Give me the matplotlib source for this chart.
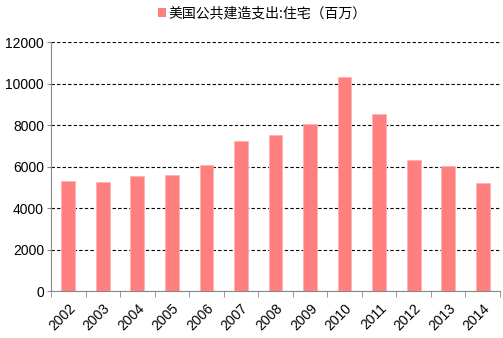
import matplotlib
matplotlib.use("Agg")
import matplotlib.pyplot as plt
from matplotlib.patches import Patch
import numpy as np

plt.rcParams['font.family'] = ['Liberation Sans', 'Noto Sans CJK SC', 'DejaVu Sans']

years = ['2002', '2003', '2004', '2005', '2006', '2007', '2008',
         '2009', '2010', '2011', '2012', '2013', '2014']
values = [5300, 5250, 5540, 5600, 6090, 7230, 7520,
          8060, 10330, 8545, 6330, 6040, 5190]
series_name = '美国公共建造支出:住宅（百万）'
yticks = [0, 2000, 4000, 6000, 8000, 10000, 12000]

fig = plt.figure(figsize=(5.03, 3.38), dpi=100)
ax = fig.add_axes([51/503, 46.7/338, 449/503, 249.3/338])

x = np.arange(len(years))
color = '#FF7F7F'
ax.bar(x, values, width=0.4, color=color, edgecolor='#FFB0B0', linewidth=0.6, zorder=3)

ax.set_xlim(-0.5, len(years) - 0.5)
ax.set_ylim(0, 12000)
ax.set_yticks(yticks)
ax.set_yticklabels([str(v) for v in yticks], fontsize=10)
ax.yaxis.grid(True, linestyle=(0, (3, 2)), color='black', linewidth=0.8, zorder=0)
ax.set_axisbelow(True)

ax.set_xticks(x)
ax.set_xticklabels(years, rotation=45, ha='right', rotation_mode='anchor', fontsize=10)
ax.tick_params(axis='x', which='major', length=0, pad=7)
ax.set_xticks(np.arange(-0.5, len(years), 1.0), minor=True)
ax.tick_params(axis='x', which='minor', length=4, color='#888888', direction='out')
ax.tick_params(axis='y', length=3, color='#888888', pad=2)

for s in ['top', 'right']:
    ax.spines[s].set_visible(False)
ax.spines['left'].set_color('#888888')
ax.spines['bottom'].set_color('#888888')

handle = Patch(facecolor=color, edgecolor='none')
fig.legend([handle], [series_name], loc='center', bbox_to_anchor=(262/503, 1 - 13/338),
           frameon=False, handlelength=0.6, handleheight=0.6,
           handletextpad=0.15, prop={'family': ['Noto Sans CJK SC', 'DejaVu Sans'], 'size': 10})

fig.savefig('out.png', dpi=100)
